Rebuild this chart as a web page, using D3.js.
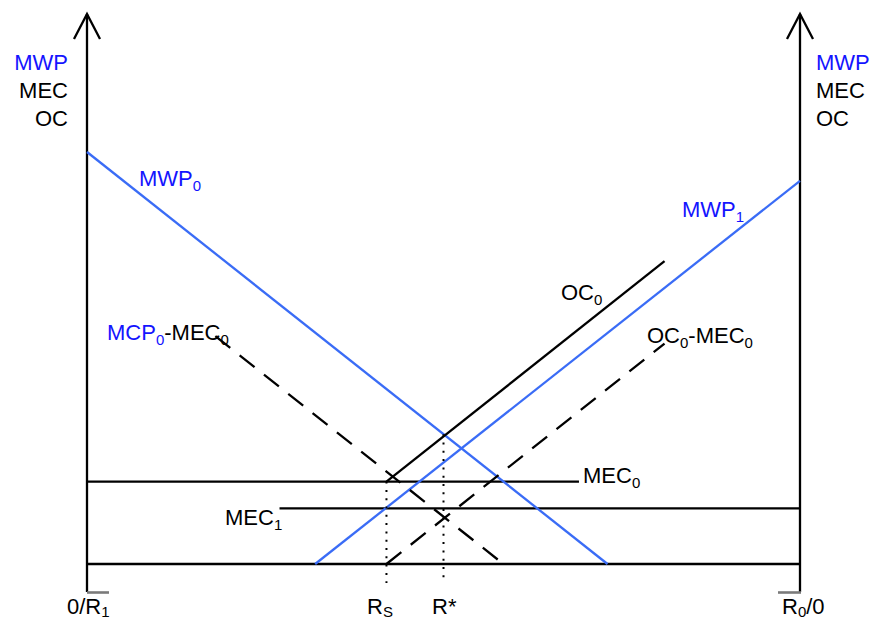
<!DOCTYPE html>
<html><head><meta charset="utf-8">
<script src="https://cdn.jsdelivr.net/npm/d3@7/dist/d3.min.js"></script>
<style>body{margin:0;background:#fff;}svg{display:block;font-family:"Liberation Sans",Arial,sans-serif;}</style>
</head><body>
<script>
// ---- data (units: R along x from 0 to Rbar, value along y) ----
const xDomain = [0, 100];
const yDomain = [0, 100];
const mwp0 = [[0, 100], [73, 0]];
const mwp1 = [[32, 0], [100, 93]];
const oc0 = [[42, 20], [81, 73.5]];
const mcp0MinusMec0 = [[18, 55.3], [58.4, 0]];
const oc0MinusMec0 = [[42, 0], [81, 53.5]];
const mec0 = [[0, 20], [69, 20]];
const mec1 = [[27, 13.5], [100, 13.5]];
const baseLine = [[0, 0], [100, 0]];
const rS = 42, rStar = 50;
const rSTop = 20, rStarTop = 31.5;

const W = 872, H = 622;
const BLUE_LINE = "#3a6cf6", BLUE_TEXT = "#1414ff";
const SW = 2.3;
const x = d3.scaleLinear().domain(xDomain).range([87, 800]);
const y = d3.scaleLinear().domain(yDomain).range([564, 152]);

const svg = d3.select("body").append("svg").attr("width", W).attr("height", H);
const line = d3.line().x(d => x(d[0])).y(d => y(d[1]));

function draw(pts, color, dash) {
  svg.append("path").attr("d", line(pts)).attr("fill", "none")
    .attr("stroke", color).attr("stroke-width", SW)
    .attr("stroke-dasharray", dash || null);
}

// axes
[xDomain[0], xDomain[1]].forEach(v => {
  const px = x(v);
  svg.append("line").attr("x1", px).attr("x2", px).attr("y1", 592).attr("y2", 14)
    .attr("stroke", "#000").attr("stroke-width", SW);
  svg.append("path").attr("d", `M${px-13},39 L${px},14 L${px+13},39`)
    .attr("fill", "none").attr("stroke", "#000").attr("stroke-width", SW);
});

draw(baseLine, "#000");
draw(mec0, "#000");
draw(mec1, "#000");
draw(mwp0, BLUE_LINE);
draw(mwp1, BLUE_LINE);
draw(oc0, "#000");
draw(mcp0MinusMec0, "#000", "19,12");
draw(oc0MinusMec0, "#000", "19,12");

// dotted verticals
[[rS, rSTop], [rStar, rStarTop]].forEach(([r, t]) => {
  svg.append("line").attr("x1", x(r)).attr("x2", x(r)).attr("y1", y(t)).attr("y2", 583)
    .attr("stroke", "#000").attr("stroke-width", 2).attr("stroke-dasharray", "2,6.3");
});

// labels
function label(px, py, parts, anchor, subDy) {
  const dy = subDy || 5;
  const t = svg.append("text").attr("x", px).attr("y", py).attr("font-size", 22)
    .attr("text-anchor", anchor || "start");
  parts.forEach(p => {
    const s = t.append("tspan").text(p.t).attr("fill", p.c || "#000");
    if (p.sub) s.attr("font-size", 15).attr("dy", dy);
    if (p.up) s.attr("dy", -dy);
  });
  return t;
}
label(68, 70, [{t: "MWP", c: BLUE_TEXT}], "end");
label(68, 98, [{t: "MEC"}], "end");
label(68, 126, [{t: "OC"}], "end");
label(816, 70, [{t: "MWP", c: BLUE_TEXT}]);
label(816, 98, [{t: "MEC"}]);
label(816, 126, [{t: "OC"}]);

label(139, 186, [{t: "MWP", c: BLUE_TEXT}, {t: "0", c: BLUE_TEXT, sub: true}]);
label(682, 217, [{t: "MWP", c: BLUE_TEXT}, {t: "1", c: BLUE_TEXT, sub: true}]);
label(107, 340, [{t: "MCP", c: BLUE_TEXT}, {t: "0", c: BLUE_TEXT, sub: true}, {t: "-MEC", up: true}, {t: "0", sub: true}]);
label(561, 300, [{t: "OC"}, {t: "0", sub: true}]);
label(647, 343, [{t: "OC"}, {t: "0", sub: true}, {t: "-MEC", up: true}, {t: "0", sub: true}]);
label(583, 483, [{t: "MEC"}, {t: "0", sub: true}]);
label(225, 525, [{t: "MEC"}, {t: "1", sub: true}]);

label(367, 614, [{t: "R"}, {t: "S", sub: true}], "start", 3);
label(432, 614, [{t: "R*"}]);
label(67, 614, [{t: "0/R"}, {t: "1", sub: true}], "start", 3);
label(782, 614, [{t: "R"}, {t: "0", sub: true}, {t: "/0", up: true}], "start", 3);

// double overbars
[[87, 109], [778, 801]].forEach(([a, b]) => {
  svg.append("line").attr("x1", a).attr("x2", b).attr("y1", 592.5).attr("y2", 592.5)
    .attr("stroke", "#7a7a7a").attr("stroke-width", 2.6);
});
</script>
</body></html>
